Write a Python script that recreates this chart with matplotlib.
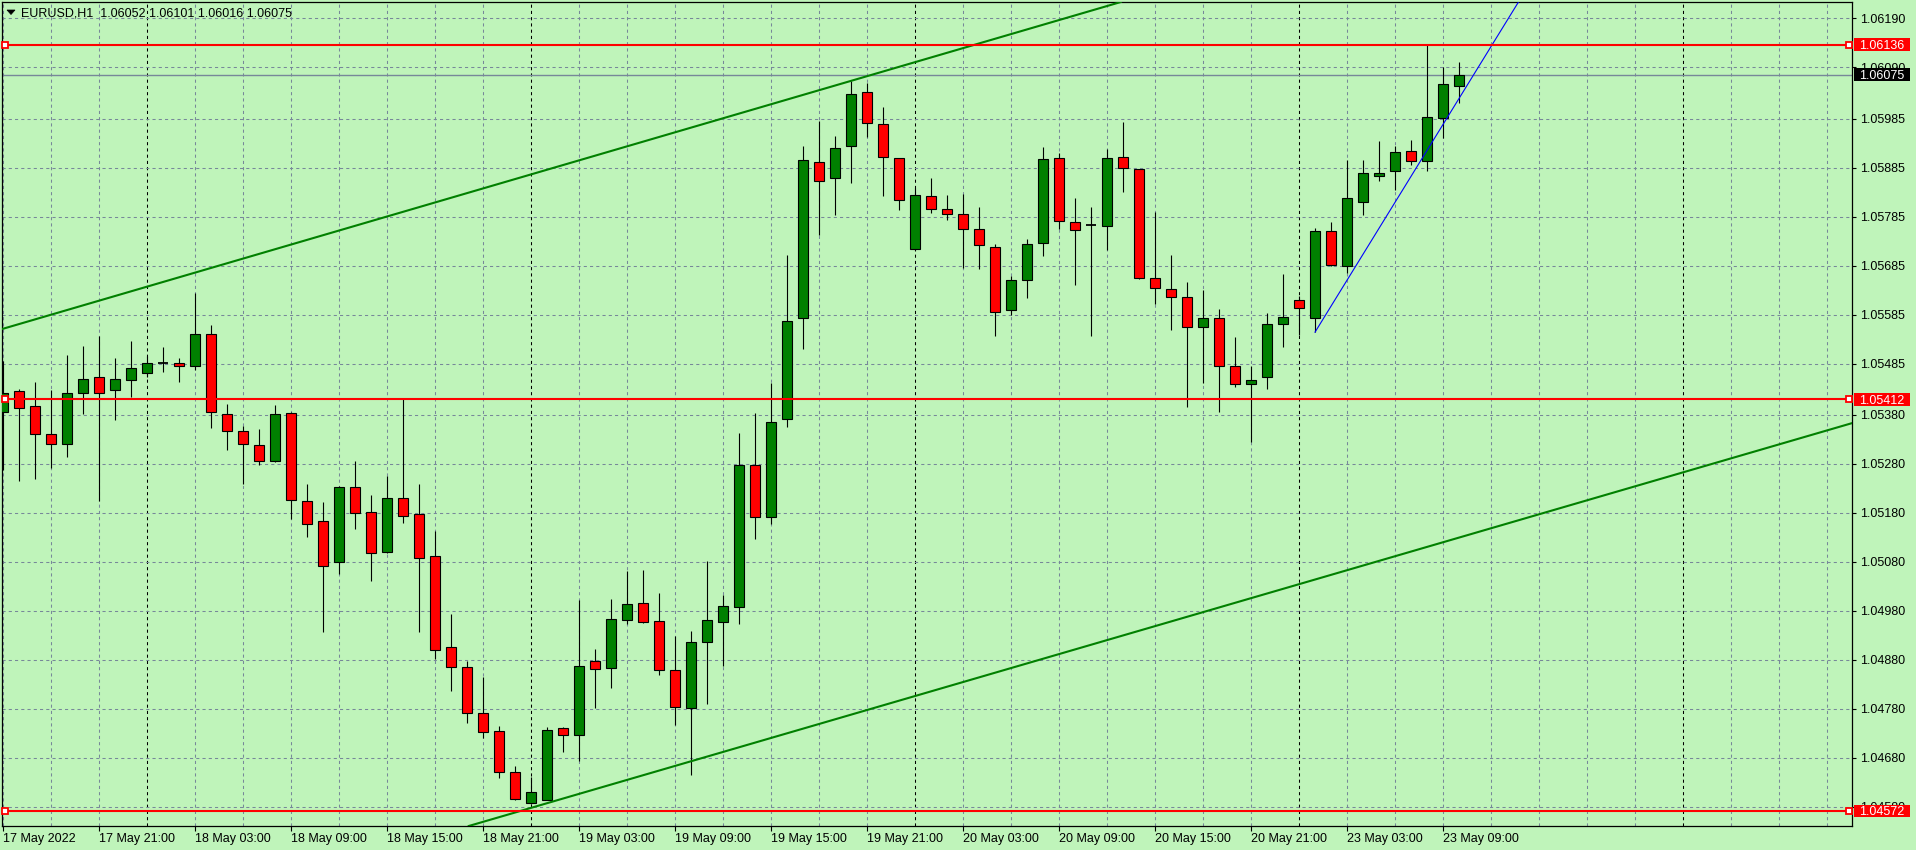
import numpy as np
import matplotlib.pyplot as plt
import matplotlib.transforms as mtransforms
from matplotlib.patches import Rectangle, Polygon

plt.rcParams['font.family'] = ['Liberation Sans', 'DejaVu Sans']

# EURUSD H1 bars, 17 May 15:00 .. 23 May 10:00 (weekend bars skipped)
opens = [1.05387, 1.05428, 1.05398, 1.05341, 1.05320, 1.05424, 1.05457, 1.05430, 1.05451, 1.05465,
         1.05486, 1.05486, 1.05479, 1.05545, 1.05383, 1.05347, 1.05318, 1.05287, 1.05385, 1.05204,
         1.05163, 1.05079, 1.05234, 1.05181, 1.05100, 1.05210, 1.05177, 1.05093, 1.04906, 1.04865,
         1.04771, 1.04734, 1.04652, 1.04587, 1.04595, 1.04742, 1.04726, 1.04877, 1.04863, 1.04961,
         1.04997, 1.04959, 1.04859, 1.04781, 1.04916, 1.04957, 1.04989, 1.05277, 1.05171, 1.05371,
         1.05577, 1.05896, 1.05863, 1.05929, 1.06039, 1.05974, 1.05904, 1.05718, 1.05827, 1.05800,
         1.05790, 1.05759, 1.05722, 1.05594, 1.05655, 1.05731, 1.05904, 1.05773, 1.05767, 1.05765,
         1.05906, 1.05882, 1.05659, 1.05637, 1.05620, 1.05559, 1.05577, 1.05481, 1.05443, 1.05457,
         1.05565, 1.05614, 1.05577, 1.05755, 1.05684, 1.05814, 1.05867, 1.05878, 1.05918, 1.05898,
         1.05986, 1.06052]
highs = [1.05490, 1.05433, 1.05447, 1.05431, 1.05502, 1.05521, 1.05541, 1.05496, 1.05531, 1.05500,
         1.05519, 1.05496, 1.05630, 1.05564, 1.05402, 1.05357, 1.05351, 1.05400, 1.05386, 1.05239,
         1.05202, 1.05235, 1.05287, 1.05216, 1.05255, 1.05412, 1.05239, 1.05144, 1.04973, 1.04877,
         1.04846, 1.04746, 1.04663, 1.04642, 1.04744, 1.04744, 1.05003, 1.04902, 1.05004, 1.05061,
         1.05063, 1.05016, 1.04929, 1.04940, 1.05081, 1.05012, 1.05343, 1.05385, 1.05446, 1.05707,
         1.05929, 1.05980, 1.05949, 1.06061, 1.06057, 1.06008, 1.05905, 1.05843, 1.05863, 1.05829,
         1.05831, 1.05804, 1.05729, 1.05663, 1.05739, 1.05927, 1.05914, 1.05822, 1.05804, 1.05923,
         1.05978, 1.05882, 1.05794, 1.05706, 1.05651, 1.05635, 1.05596, 1.05539, 1.05479, 1.05588,
         1.05667, 1.05622, 1.05761, 1.05773, 1.05901, 1.05900, 1.05939, 1.05929, 1.05941, 1.06136,
         1.06090, 1.06101]
lows = [1.05268, 1.05246, 1.05249, 1.05272, 1.05295, 1.05381, 1.05204, 1.05370, 1.05417, 1.05458,
        1.05468, 1.05448, 1.05472, 1.05354, 1.05309, 1.05239, 1.05278, 1.05285, 1.05167, 1.05131,
        1.04936, 1.05055, 1.05147, 1.05042, 1.05098, 1.05159, 1.04938, 1.04882, 1.04817, 1.04752,
        1.04721, 1.04640, 1.04594, 1.04585, 1.04594, 1.04692, 1.04674, 1.04782, 1.04823, 1.04953,
        1.04955, 1.04850, 1.04748, 1.04646, 1.04791, 1.04867, 1.04953, 1.05127, 1.05157, 1.05356,
        1.05515, 1.05748, 1.05789, 1.05854, 1.05948, 1.05826, 1.05799, 1.05717, 1.05792, 1.05777,
        1.05680, 1.05677, 1.05541, 1.05584, 1.05618, 1.05704, 1.05759, 1.05645, 1.05541, 1.05716,
        1.05836, 1.05657, 1.05606, 1.05553, 1.05396, 1.05445, 1.05387, 1.05437, 1.05324, 1.05433,
        1.05519, 1.05544, 1.05549, 1.05685, 1.05670, 1.05789, 1.05857, 1.05839, 1.05890, 1.05878,
        1.05945, 1.06016]
closes = [1.05424, 1.05394, 1.05341, 1.05320, 1.05424, 1.05453, 1.05424, 1.05453, 1.05475, 1.05486,
          1.05486, 1.05479, 1.05545, 1.05387, 1.05347, 1.05320, 1.05287, 1.05383, 1.05206, 1.05157,
          1.05071, 1.05234, 1.05179, 1.05098, 1.05210, 1.05173, 1.05089, 1.04901, 1.04865, 1.04771,
          1.04732, 1.04652, 1.04597, 1.04611, 1.04736, 1.04726, 1.04867, 1.04861, 1.04963, 1.04995,
          1.04957, 1.04859, 1.04783, 1.04916, 1.04961, 1.04991, 1.05277, 1.05171, 1.05365, 1.05571,
          1.05900, 1.05857, 1.05925, 1.06035, 1.05976, 1.05906, 1.05818, 1.05829, 1.05800, 1.05790,
          1.05759, 1.05726, 1.05590, 1.05655, 1.05729, 1.05902, 1.05775, 1.05757, 1.05767, 1.05904,
          1.05884, 1.05659, 1.05639, 1.05620, 1.05559, 1.05577, 1.05481, 1.05443, 1.05451, 1.05565,
          1.05579, 1.05598, 1.05755, 1.05686, 1.05822, 1.05874, 1.05874, 1.05916, 1.05898, 1.05988,
          1.06055, 1.06075]

time_labels = ['17 May 2022', '17 May 21:00', '18 May 03:00', '18 May 09:00', '18 May 15:00',
               '18 May 21:00', '19 May 03:00', '19 May 09:00', '19 May 15:00', '19 May 21:00',
               '20 May 03:00', '20 May 09:00', '20 May 15:00', '20 May 21:00', '23 May 03:00',
               '23 May 09:00']
label_bars = [0, 6, 12, 18, 24, 30, 36, 42, 48, 54, 60, 66, 72, 78, 84, 90]
day_starts = [9, 33, 57, 81, 105]   # period separators (00:00)

price_ticks = [1.06190, 1.06090, 1.05985, 1.05885, 1.05785, 1.05685, 1.05585, 1.05485, 1.05380,
               1.05280, 1.05180, 1.05080, 1.04980, 1.04880, 1.04780, 1.04680, 1.04580]
red_levels = [1.06136, 1.05412, 1.04572]
bid = 1.06075
title = 'EURUSD,H1  1.06052 1.06101 1.06016 1.06075'

# trend lines as (bar, price) anchor pairs
upper_channel = [(0, 1.05556), (53, 1.06062)]
lower_channel = [(33, 1.04578), (115, 1.05358)]
blue_ray = [(82, 1.05549), (89, 1.05920)]

BG = '#bff4ba'
GRID = '#778899'
W, H = 1916, 850
ylim = (1.04541, 1.06223)

fig = plt.figure(figsize=(W / 100, H / 100), dpi=100, facecolor=BG)
ax = fig.add_axes([2 / W, 24 / H, 1850 / W, 824 / H], facecolor=BG)
ax.set_xlim(-0.0625, 115.5625)
ax.set_ylim(*ylim)

# grid
for b in range(0, 116, 3):
    if b not in day_starts:
        ax.axvline(b, color=GRID, lw=0.75, ls=(0, (3, 3)), zorder=1)
for b in day_starts:
    ax.axvline(b, color='black', lw=0.75, ls=(0, (3, 3)), zorder=1)
for p in price_ticks:
    ax.axhline(p, color=GRID, lw=0.75, ls=(0, (3, 3)), zorder=1)

ax.axhline(bid, color=GRID, lw=1.0, zorder=2)

# candles
n = len(opens)
xs = np.arange(n)
ax.vlines(xs, lows, highs, color='black', lw=0.8, zorder=3)
for i in range(n):
    o, c = opens[i], closes[i]
    if c == o:
        ax.hlines(o, i - 0.3, i + 0.3, color='black', lw=1.3, zorder=4)
        continue
    col = '#008000' if c > o else '#ff0000'
    ax.add_patch(Rectangle((i - 0.3, min(o, c)), 0.6, abs(c - o),
                           fc=col, ec='black', lw=0.8, zorder=4))

# trend lines
ax.axline(upper_channel[0], upper_channel[1], color='#008000', lw=1.5, zorder=5)
ax.axline(lower_channel[0], lower_channel[1], color='#008000', lw=1.5, zorder=5)
(bx0, by0), (bx1, by1) = blue_ray
slope = (by1 - by0) / (bx1 - bx0)
ax.plot([bx0, 100], [by0, by0 + slope * (100 - bx0)], color='#0000ff', lw=0.8, zorder=5)

# horizontal levels with end handles
blend_ax = mtransforms.blended_transform_factory(ax.transAxes, ax.transData)
for p in red_levels:
    ax.axhline(p, color='#ff0000', lw=1.5, zorder=6)
    ax.plot([0.0014, 0.9986], [p, p], transform=blend_ax, ls='none', marker='s', ms=4,
            mfc='white', mec='#ff0000', mew=1.3, zorder=7, clip_on=False)

# axes, ticks
for s in ax.spines.values():
    s.set_color('black')
    s.set_linewidth(0.9)
ax.yaxis.tick_right()
ax.set_yticks(price_ticks)
ax.set_yticklabels([f'{p:.5f}' for p in price_ticks])
ax.tick_params(axis='y', length=3, width=0.8, pad=2.5, labelsize=9, colors='black')
ax.set_xticks(label_bars)
ax.set_xticklabels(time_labels, ha='left')
ax.tick_params(axis='x', length=3.5, width=0.8, pad=1.5, labelsize=9, colors='black')

# price boxes on the scale
blend_fig = mtransforms.blended_transform_factory(fig.transFigure, ax.transData)
ppx = (ylim[1] - ylim[0]) / 824
for p, fc in [(red_levels[0], '#ff0000'), (red_levels[1], '#ff0000'),
              (red_levels[2], '#ff0000'), (bid, 'black')]:
    ax.add_patch(Rectangle((1854 / W, p - 6.3 * ppx), 56 / W, 12.6 * ppx, transform=blend_fig,
                           fc=fc, ec='none', clip_on=False, zorder=10))
    ax.text(1859 / W, p, f'{p:.5f}', transform=blend_fig, color='white', fontsize=9,
            ha='left', va='center_baseline', zorder=11)

# title
fig.text(21 / W, 1 - 13 / H, title, fontsize=9, color='black', va='center', ha='left')
fig.add_artist(Polygon([(7, H - 10), (15, H - 10), (11, H - 14.5)], closed=True,
                       transform=mtransforms.IdentityTransform(), fc='black', ec='black', lw=0.5))

fig.savefig('out.png', dpi=100, facecolor=BG)
